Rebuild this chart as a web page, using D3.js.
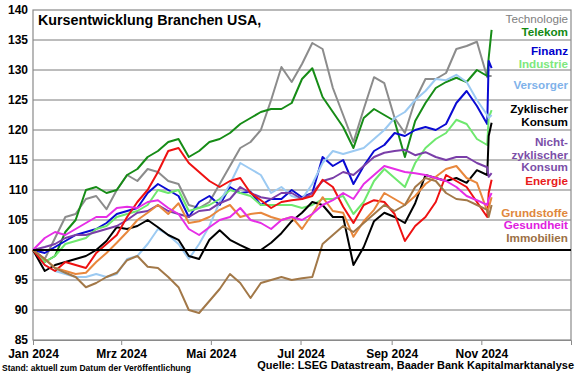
<!DOCTYPE html>
<html>
<head>
<meta charset="utf-8">
<script src="https://cdn.jsdelivr.net/npm/d3@7"></script>
<style>
  body { margin: 0; background: #fff; }
  svg { display: block; font-family: Arial, "Liberation Sans", sans-serif; }
  .grid line { stroke: #7a7a7a; stroke-width: 1; }
  .tick text { font-weight: bold; font-size: 12px; fill: #000; }
</style>
</head>
<body>
<svg id="chart"></svg>
<script>
var width = 580, height = 375;
var margin = {left: 33, top: 10, right: 9, bottom: 35};

// weekly readings, last two points = 6. + 8. Nov
var dates = ["2024-01-01","2024-01-09","2024-01-16","2024-01-23","2024-01-30",
  "2024-02-06","2024-02-13","2024-02-20","2024-02-27",
  "2024-03-05","2024-03-12","2024-03-19","2024-03-26",
  "2024-04-02","2024-04-09","2024-04-16","2024-04-23","2024-04-30",
  "2024-05-07","2024-05-14","2024-05-21","2024-05-28",
  "2024-06-04","2024-06-11","2024-06-18","2024-06-25",
  "2024-07-02","2024-07-09","2024-07-16","2024-07-23","2024-07-30",
  "2024-08-06","2024-08-13","2024-08-20","2024-08-27",
  "2024-09-03","2024-09-10","2024-09-17","2024-09-24",
  "2024-10-01","2024-10-08","2024-10-15","2024-10-22","2024-10-29",
  "2024-11-05","2024-11-06","2024-11-08"];

var technologie = [100,98.5,102,105.5,106,108.5,109,106.8,110,112.5,111.5,113.5,113,111.5,111,107.5,107,108,111,114,117,118,120,125,130.5,128,131,134.5,133.5,127,122.5,118,123.5,128.8,127.8,122,119.5,125,128.5,128.5,129.5,133.5,134,134.7,128.8,129,129];
var telekom = [100,98,99,103,105,110,110.5,109.5,110,112.5,113.5,115.5,116.5,118,118.5,115.5,116.5,118,118.5,119.5,121,122,123,123.5,123.5,124.5,128.5,130.3,125.5,123,120.5,117,122,123.5,122.5,121.5,115.5,121.5,124.5,127,128,128.7,128,130,129,132,136.7];
var finanz = [100,99.5,100.5,101.5,102.5,103,103.5,104.5,106,106.5,107,109.5,111,110,109,105.5,108,109,107.5,110.5,109.5,109.7,107.5,108.5,108.5,110,108.8,109.5,115.5,114,115,111,114,116.5,117.5,119.5,119,120,120.5,120,121,124.5,126.5,124,121,131.5,130.3];
var industrie = [100,98,99,101,101.5,102,103.5,104,105.5,106,106.5,107.5,110,109.5,110,106.5,107,107.5,108.5,110,109.5,109,107.5,107.5,107.5,107.5,107,107.5,108.5,108.5,109,106,108,111.5,113.5,112,110.5,114.5,117,118.5,119.5,121.7,121,118.5,117.5,122,123.3];
var versorger = [100,97.5,96.5,96,95.5,95.5,96,95.5,96,98.5,99,101,103.5,102.5,101,98.5,101,104,108,111,114.5,113.5,112.5,109.5,110.5,109,108.5,111,114.5,116.5,116,116.5,117,118.5,120,122,123,125,126.5,128.5,128.3,129.2,128,125,122.5,122,122.5];
var zyklisch = [100,96.5,97.5,98,98.5,99,100,101.5,103.8,103.5,104,105,103.8,102.5,101.7,99,98.5,101.7,103.3,101.7,100.8,100,100,101.2,102.8,104.8,106.2,108,107.5,105.5,105.5,97.5,100.5,104.8,106.2,105.5,104.5,107.8,112.5,112,111.5,112,111.2,113.3,112.5,119,121.2];
var nichtZyklisch = [100,100.5,101,102,102.5,102.5,103,103.5,104,105,106.2,106.5,107.5,106.5,106,105.5,106.5,106.7,107.8,108.5,110.5,109.5,108.8,108.5,109.5,109.5,108.5,109.5,111.5,112,113,112.5,114,115.5,116.2,116.5,116.7,115.8,116.3,115.5,115,115.5,115.5,114.5,113.8,112.2,112.8];
var energie = [100,97.5,96.5,98,97.5,97,99.5,101,102.5,105.5,108,110,113,116.5,117,114.5,113,111.5,110.5,111.5,112,109.5,108.3,107,108,108.3,108.5,109,111.7,110.5,107.2,104.5,107.5,108.3,108,106,101.5,104,105.5,108,112.5,111.5,110.5,108,105.5,109.5,111.7];
var grundstoffe = [100,98.5,97,96.5,96,96.2,98,99.5,101.2,103,105,106.2,107.5,106,107.8,104.5,104.8,105.5,106.7,107.5,105.5,106,106.2,105.5,105,105.5,103.5,106,108.8,106.5,106.2,102.2,104.8,106.7,109.5,108.5,107.5,109,111,112.2,113.5,114,112,111.2,106.5,107,108.8];
var gesundheit = [100,102,103,102.5,103.5,104.5,105.5,105.5,107,107.2,107,108,108.3,107,106,103.5,102.5,103.8,105,105.5,107,105,104.5,103.5,105,105.5,105,106,107.5,108.3,109.5,108.5,111,112.5,114,113.5,113,112.8,112.5,112,111.5,110.5,109,108.3,107.5,108.5,109.5];
var immobilien = [100,98.5,97,96.2,95.5,93.8,94.5,95.5,96.2,98.3,99,97.2,97,95.5,93.8,90,89.5,91.5,93.5,96,94.5,92,94.5,95,95.5,95,95.3,95.5,101,102.5,104,103,104.5,106,107.5,106.5,107.5,110.5,112,111.5,109.5,108.5,108.3,107.5,106.7,105.5,107.5];

var yTicks = [85,90,95,100,105,110,115,120,125,130,135,140];
var xTickDates = ["2024-01-01","2024-03-01","2024-05-01","2024-07-01","2024-09-01","2024-11-01"];
var xTickLabels = ["Jan 2024","Mrz 2024","Mai 2024","Jul 2024","Sep 2024","Nov 2024"];

var seriesNames = ["Technologie","Telekom","Finanz","Industrie","Versorger","Zyklischer Konsum",
  "Nicht-zyklischer Konsum","Energie","Grundstoffe","Gesundheit","Immobilien"];
var seriesValues = [technologie,telekom,finanz,industrie,versorger,zyklisch,
  nichtZyklisch,energie,grundstoffe,gesundheit,immobilien];
var lineColors = ["#8c8c8c","#168c16","#0a0ad2","#6ee86e","#9ccaf2","#000000",
  "#7a3ea8","#ee1111","#e8873c","#e62ee6","#a27848"];

// legend: lines of text, colour, baseline y
var legendItems = [
  {text: ["Technologie"], color: "#808080", y: 23, bold: false},
  {text: ["Telekom"], color: "#138a13", y: 36},
  {text: ["Finanz"], color: "#0000cc", y: 55},
  {text: ["Industrie"], color: "#7de87d", y: 68},
  {text: ["Versorger"], color: "#7fb2ea", y: 89},
  {text: ["Zyklischer", "Konsum"], color: "#000000", y: 113},
  {text: ["Nicht-", "zyklischer", "Konsum"], color: "#7b4fa8", y: 146},
  {text: ["Energie"], color: "#e81b1b", y: 185},
  {text: ["Grundstoffe"], color: "#e0873c", y: 217},
  {text: ["Gesundheit"], color: "#e020e0", y: 229},
  {text: ["Immobilien"], color: "#9c7045", y: 242}
];

var parse = d3.timeParse("%Y-%m-%d");
var x = d3.scaleTime()
  .domain([parse("2024-01-01"), parse("2025-01-01")])
  .range([margin.left, width - margin.right]);
var y = d3.scaleLinear().domain([85, 140]).range([height - margin.bottom, margin.top]);

var svg = d3.select("#chart").attr("width", width).attr("height", height);

// gridlines
svg.append("g").attr("class", "grid")
  .selectAll("line").data(yTicks.filter(function(d){ return d !== 100 && d !== 85 && d !== 140; }))
  .enter().append("line")
  .attr("x1", x.range()[0]).attr("x2", x.range()[1])
  .attr("y1", function(d){ return y(d); }).attr("y2", function(d){ return y(d); });

// frame
svg.append("rect")
  .attr("x", x.range()[0]).attr("y", y(140))
  .attr("width", x.range()[1] - x.range()[0]).attr("height", y(85) - y(140))
  .attr("fill", "none").attr("stroke", "#8a8a8a").attr("stroke-width", 1.2);

// y axis labels
var yAxis = d3.axisLeft(y).tickValues(yTicks).tickSize(0).tickPadding(5);
svg.append("g").attr("transform", "translate(" + margin.left + ",0)").call(yAxis)
  .call(function(g){
    g.select(".domain").remove();
    g.selectAll(".tick text").attr("dy", "0.3em");
  });

// x axis
var xAxis = d3.axisBottom(x)
  .tickValues(xTickDates.map(parse))
  .tickFormat(function(d, i){ return xTickLabels[i]; })
  .tickSize(5).tickPadding(4);
svg.append("g").attr("transform", "translate(0," + y(85) + ")").call(xAxis)
  .call(function(g){
    g.select(".domain").attr("stroke", "#8a8a8a");
    g.selectAll(".tick line").attr("stroke", "#8a8a8a");
  });

// series
var line = d3.line()
  .x(function(d, i){ return x(parse(dates[i])); })
  .y(function(d){ return y(d); });

svg.append("g").selectAll("path")
  .data(seriesValues)
  .enter().append("path")
  .attr("d", function(d){ return line(d); })
  .attr("fill", "none")
  .attr("stroke", function(d, i){ return lineColors[i]; })
  .attr("stroke-width", 2)
  .attr("stroke-linejoin", "round");

// 100 line
svg.append("line")
  .attr("x1", x.range()[0]).attr("x2", x.range()[1])
  .attr("y1", y(100)).attr("y2", y(100))
  .attr("stroke", "#000").attr("stroke-width", 2);

// title
svg.append("text")
  .attr("x", 38).attr("y", 25)
  .style("font-size", "14.3px").style("font-weight", "bold")
  .text("Kursentwicklung Branchen USA,");

// legend
var leg = svg.append("g").style("font-size", "11.7px").attr("text-anchor", "end");
legendItems.forEach(function(item){
  item.text.forEach(function(t, j){
    leg.append("text")
      .attr("x", 568).attr("y", item.y + j * 12.5)
      .attr("fill", item.color)
      .style("font-weight", item.bold === false ? "normal" : "bold")
      .text(t);
  });
});

// footer
svg.append("text")
  .attr("x", 2).attr("y", 371)
  .style("font-size", "8.5px").style("font-weight", "bold")
  .text("Stand: aktuell zum Datum der Veröffentlichung");
svg.append("text")
  .attr("x", 574).attr("y", 369).attr("text-anchor", "end")
  .style("font-size", "11px").style("font-weight", "bold")
  .text("Quelle: LSEG Datastream, Baader Bank Kapitalmarktanalyse");
</script>
</body>
</html>
